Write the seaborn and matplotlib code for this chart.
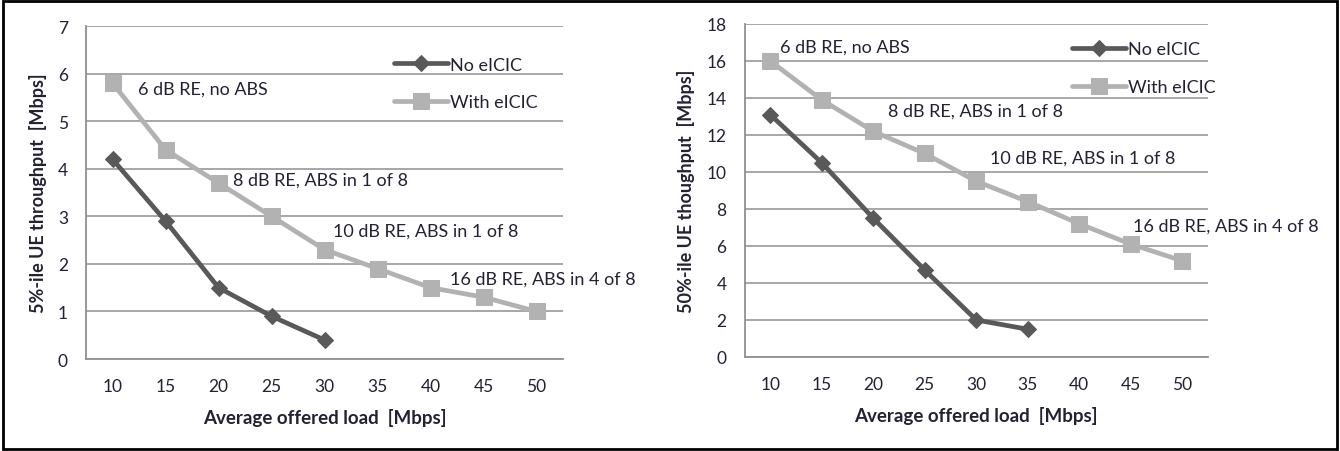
import pandas as pd
import seaborn as sns
import matplotlib.pyplot as plt
from matplotlib.patches import Rectangle

# Data
load = [10, 15, 20, 25, 30, 35, 40, 45, 50]

p5_no = [4.2, 2.9, 1.5, 0.9, 0.4]
p5_with = [5.8, 4.4, 3.7, 3.0, 2.3, 1.9, 1.5, 1.3, 1.0]

p50_no = [13.1, 10.5, 7.5, 4.7, 2.0, 1.5]
p50_with = [16.0, 13.9, 12.2, 11.0, 9.5, 8.4, 7.2, 6.1, 5.2]

notes = ['6 dB RE, no ABS', '8 dB RE, ABS in 1 of 8',
         '10 dB RE, ABS in 1 of 8', '16 dB RE, ABS in 4 of 8']
notes_left_xy = [(12.4, 5.68), (21.4, 3.78), (30.8, 2.69), (41.8, 1.68)]
notes_right_xy = [(10.9, 16.8), (21.4, 13.3), (31.3, 10.8), (45.2, 7.08)]

sns.set_style('white')
plt.rcParams['font.family'] = ['Lato', 'DejaVu Sans']

dark = '#595959'
light = '#b2b2b2'
txt = '#222233'

fig = plt.figure(figsize=(13.4, 4.52), dpi=100)
ax1 = fig.add_axes([0.0642, 0.2035, 0.356, 0.7367])
ax2 = fig.add_axes([0.5556, 0.208, 0.3459, 0.7367])


def draw(ax, no_vals, with_vals, ymax, ystep, ylabel, notes_xy):
    df_no = pd.DataFrame({'load': load[:len(no_vals)], 'thr': no_vals})
    df_with = pd.DataFrame({'load': load, 'thr': with_vals})
    sns.lineplot(data=df_no, x='load', y='thr', ax=ax, color=dark, lw=3.4,
                 marker='D', markersize=8, markeredgecolor=dark, label='No eICIC',
                 zorder=4)
    sns.lineplot(data=df_with, x='load', y='thr', ax=ax, color=light, lw=3.4,
                 marker='s', markersize=11.5, markeredgecolor=light, label='With eICIC',
                 zorder=3)
    ax.set_xlim(7.5, 52.5)
    ax.set_ylim(0, ymax)
    ax.set_xticks(load)
    ax.set_xticks([x - 2.5 for x in load] + [52.5], minor=True)
    ax.set_yticks(range(0, ymax + 1, ystep))
    ax.tick_params(axis='x', which='major', length=0, pad=14, labelsize=12.5, labelcolor=txt)
    ax.tick_params(axis='x', which='minor', length=6, width=1.3, color='#909090', direction='out')
    ax.tick_params(axis='y', length=5, width=1.3, color='#909090', labelsize=12.5,
                   labelcolor=txt, pad=8)
    ax.grid(axis='y', color='#a0a0a0', lw=1.3)
    ax.set_axisbelow(True)
    for s in ['top', 'right']:
        ax.spines[s].set_visible(False)
    for s in ['left', 'bottom']:
        ax.spines[s].set_color('#909090')
        ax.spines[s].set_linewidth(1.3)
    ax.set_xlabel('Average offered load  [Mbps]', fontsize=13.5, fontweight='bold',
                  color=txt, labelpad=10)
    ax.set_ylabel(ylabel, fontsize=13, fontweight='bold', color=txt, labelpad=8)
    for t, (x, y) in zip(notes, notes_xy):
        ax.text(x, y, t, fontsize=13, color=txt, va='center', ha='left',
                clip_on=False)
    ax.legend(frameon=False, loc='upper left', handlelength=3.0, handletextpad=0.1,
              labelspacing=1.2, fontsize=13, borderaxespad=0, labelcolor=txt)


draw(ax1, p5_no, p5_with, 7, 1, '5%-ile UE throughput  [Mbps]', notes_left_xy)
draw(ax2, p50_no, p50_with, 18, 2, '50%-ile UE thoughput  [Mbps]', notes_right_xy)
ax1.get_legend().set_bbox_to_anchor((0.63, 0.93))
ax2.get_legend().set_bbox_to_anchor((0.69, 0.97))

fig.patches.append(Rectangle((0.002, 0.004), 0.996, 0.992, transform=fig.transFigure,
                             fill=False, edgecolor='black', lw=2))

fig.savefig('out.png', dpi=100)
